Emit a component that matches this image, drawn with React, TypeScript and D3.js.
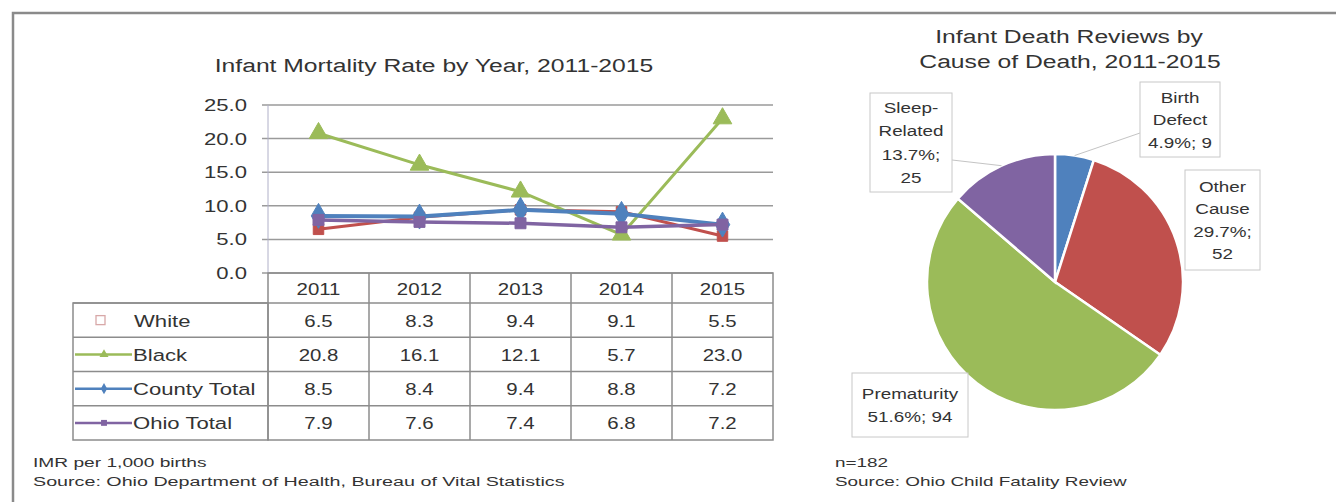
import React from "react";
import * as d3 from "d3";

// line chart data
const years = ["2011", "2012", "2013", "2014", "2015"];
const seriesNames = ["White", "Black", "County Total", "Ohio Total"];
const whiteRates = [6.5, 8.3, 9.4, 9.1, 5.5];
const blackRates = [20.8, 16.1, 12.1, 5.7, 23.0];
const countyRates = [8.5, 8.4, 9.4, 8.8, 7.2];
const ohioRates = [7.9, 7.6, 7.4, 6.8, 7.2];
const yTicks = [0, 5, 10, 15, 20, 25];

// pie chart data
const causes = ["Birth Defect", "Other Cause", "Prematurity", "Sleep-Related"];
const causePercents = [4.9, 29.7, 51.6, 13.7];
const causeCounts = [9, 52, 94, 25];

const seriesColors = ["#C0504D", "#9BBB59", "#4F81BD", "#8064A2"];
const pieColors = ["#4F81BD", "#C0504D", "#9BBB59", "#8064A2"];
const FONT = "'Liberation Sans', Arial, sans-serif";
const TXT = "#333";

// the source picture is stretched sideways, so text gets an x scale
const T = ({ x, y, size, sx = 1.25, anchor = "start", children }: any) => (
  <text
    transform={`translate(${x},${y}) scale(${sx},1)`}
    fontSize={size}
    textAnchor={anchor}
    fill={TXT}
  >
    {children}
  </text>
);

const App = () => {
  const series = [whiteRates, blackRates, countyRates, ohioRates];

  // ---- line chart ----
  const x = d3.scaleBand<string>().domain(years).range([268, 773]);
  const cx = (yr: string) => (x(yr) as number) + x.bandwidth() / 2;
  const y = d3.scaleLinear().domain([0, 25]).range([273, 105]);
  const rowY = d3.scaleBand<string>().domain(seriesNames).range([303, 440]);
  const line = d3
    .line<number>()
    .x((_, i) => cx(years[i]))
    .y((d) => y(d));

  const markerSym = [d3.symbolSquare, d3.symbolTriangle, d3.symbolDiamond, d3.symbolSquare];
  const markerSize = [110, 150, 180, 120];
  const lineWidth = [3, 3, 4, 3.5];

  // ---- pie chart ----
  const pcx = 1055;
  const pcy = 282;
  const r = 128;
  const pie = d3.pie<number>().sort(null).value((d) => d);
  const arcs = pie(causePercents);
  const arc = d3.arc<d3.PieArcDatum<number>>().innerRadius(0).outerRadius(r);

  const labelBoxes = [
    { x: 1140, y: 82, w: 80, h: 75, lh: 22.5, lines: ["Birth", "Defect", `${causePercents[0]}%; ${causeCounts[0]}`], ax: 1140, ay: 133 },
    { x: 1185, y: 170, w: 75, h: 100, lh: 22.5, lines: ["Other", "Cause", `${causePercents[1]}%;`, `${causeCounts[1]}`], ax: null, ay: null },
    { x: 852, y: 373, w: 116, h: 64, lh: 23, lines: ["Prematurity", `${causePercents[2]}%; ${causeCounts[2]}`], ax: null, ay: null },
    { x: 870, y: 93, w: 82, h: 99, lh: 23.5, lines: ["Sleep-", "Related", `${causePercents[3]}%;`, `${causeCounts[3]}`], ax: 952, ay: 160 },
  ];

  return (
    <svg
      width={1336}
      height={502}
      style={{ position: "absolute", left: 0, top: 0, background: "#fff" }}
      fontFamily={FONT}
    >
      {/* outer frame */}
      <path d="M13,502 L13,13 L1336,13" fill="none" stroke="#8a8a8a" strokeWidth={2.5} />

      {/* line chart title */}
      <T x={434} y={72} size={19} sx={1.3} anchor="middle">
        Infant Mortality Rate by Year, 2011-2015
      </T>

      {/* gridlines and y axis */}
      {yTicks.map((t) => (
        <g key={t}>
          <line x1={262} x2={773} y1={y(t)} y2={y(t)} stroke="#9a9a9a" strokeWidth={1.5} />
          <T x={247} y={y(t) + 6} size={17} sx={1.3} anchor="end">
            {t.toFixed(1)}
          </T>
        </g>
      ))}
      <line x1={268} x2={268} y1={y(25)} y2={y(0)} stroke="#b0b0c8" strokeWidth={1} />

      {/* series lines */}
      {series.map((vals, si) => (
        <g key={seriesNames[si]}>
          <path d={line(vals) as string} fill="none" stroke={seriesColors[si]} strokeWidth={lineWidth[si]} />
          {vals.map((v, i) => (
            <path
              key={i}
              transform={`translate(${cx(years[i])},${y(v)})`}
              d={d3.symbol(markerSym[si], markerSize[si])() as string}
              fill={seriesColors[si]}
              stroke={seriesColors[si]}
              strokeWidth={1}
            />
          ))}
        </g>
      ))}

      {/* data table */}
      <g stroke="#8c8c8c" strokeWidth={1.5} fill="none">
        <rect x={268} y={273} width={505} height={167} />
        <rect x={73} y={303} width={195} height={137} />
        {years.slice(1).map((yr) => (
          <line key={yr} x1={x(yr)} x2={x(yr)} y1={273} y2={440} />
        ))}
        {seriesNames.map((s) => (
          <line key={s} x1={73} x2={773} y1={rowY(s)} y2={rowY(s)} />
        ))}
      </g>
      {years.map((yr) => (
        <T key={yr} x={cx(yr)} y={295} size={17} sx={1.2} anchor="middle">
          {yr}
        </T>
      ))}
      {seriesNames.map((s, si) => {
        const ym = (rowY(s) as number) + rowY.bandwidth() / 2;
        return (
          <g key={s}>
            {si > 0 && <line x1={75} x2={132} y1={ym} y2={ym} stroke={seriesColors[si]} strokeWidth={2.5} />}
            {si === 0 ? (
              <rect x={96} y={ym - 4.5} width={9} height={9} fill="none" stroke="#d8a8a8" strokeWidth={1.3} />
            ) : (
              <path
                transform={`translate(104,${ym})`}
                d={d3.symbol(markerSym[si], 35)() as string}
                fill={seriesColors[si]}
              />
            )}
            <T x={si === 0 ? 134 : 133} y={ym + 6.5} size={17} sx={1.3}>
              {s}
            </T>
            {series[si].map((v, i) => (
              <T key={i} x={cx(years[i])} y={ym + 6.5} size={17} sx={1.2} anchor="middle">
                {v.toFixed(1)}
              </T>
            ))}
          </g>
        );
      })}

      {/* line chart footnotes */}
      <T x={33} y={467} size={13.5} sx={1.42}>IMR per 1,000 births</T>
      <T x={33} y={486} size={13.5} sx={1.46}>
        Source: Ohio Department of Health, Bureau of Vital Statistics
      </T>

      {/* pie chart title */}
      <T x={1069} y={43} size={19} sx={1.3} anchor="middle">Infant Death Reviews by</T>
      <T x={1070} y={68} size={19} sx={1.3} anchor="middle">Cause of Death, 2011-2015</T>

      {/* pie slices */}
      <g transform={`translate(${pcx},${pcy})`}>
        {arcs.map((a, i) => (
          <path key={causes[i]} d={arc(a) as string} fill={pieColors[i]} stroke="#fff" strokeWidth={2.5} />
        ))}
      </g>

      {/* labels */}
      {labelBoxes.map((b, i) => {
        const a = arcs[i];
        const mid = (a.startAngle + a.endAngle) / 2;
        const ex = pcx + Math.sin(mid) * r;
        const ey = pcy - Math.cos(mid) * r;
        const top = b.y + b.h / 2 - ((b.lines.length - 1) * b.lh) / 2;
        return (
          <g key={causes[i]}>
            {b.ax !== null && (
              <line x1={b.ax} y1={b.ay as number} x2={ex} y2={ey} stroke="#c4c4c4" strokeWidth={1} />
            )}
            <rect x={b.x} y={b.y} width={b.w} height={b.h} fill="#fff" stroke="#c8c8c8" strokeWidth={1} />
            {b.lines.map((l, k) => (
              <T key={k} x={b.x + b.w / 2} y={top + k * b.lh + 5.5} size={14.5} sx={1.3} anchor="middle">
                {l}
              </T>
            ))}
          </g>
        );
      })}

      {/* pie footnotes */}
      <T x={835} y={467} size={13.5} sx={1.4}>n=182</T>
      <T x={835} y={486} size={13.5} sx={1.4}>Source: Ohio Child Fatality Review</T>
    </svg>
  );
};

export default App;
